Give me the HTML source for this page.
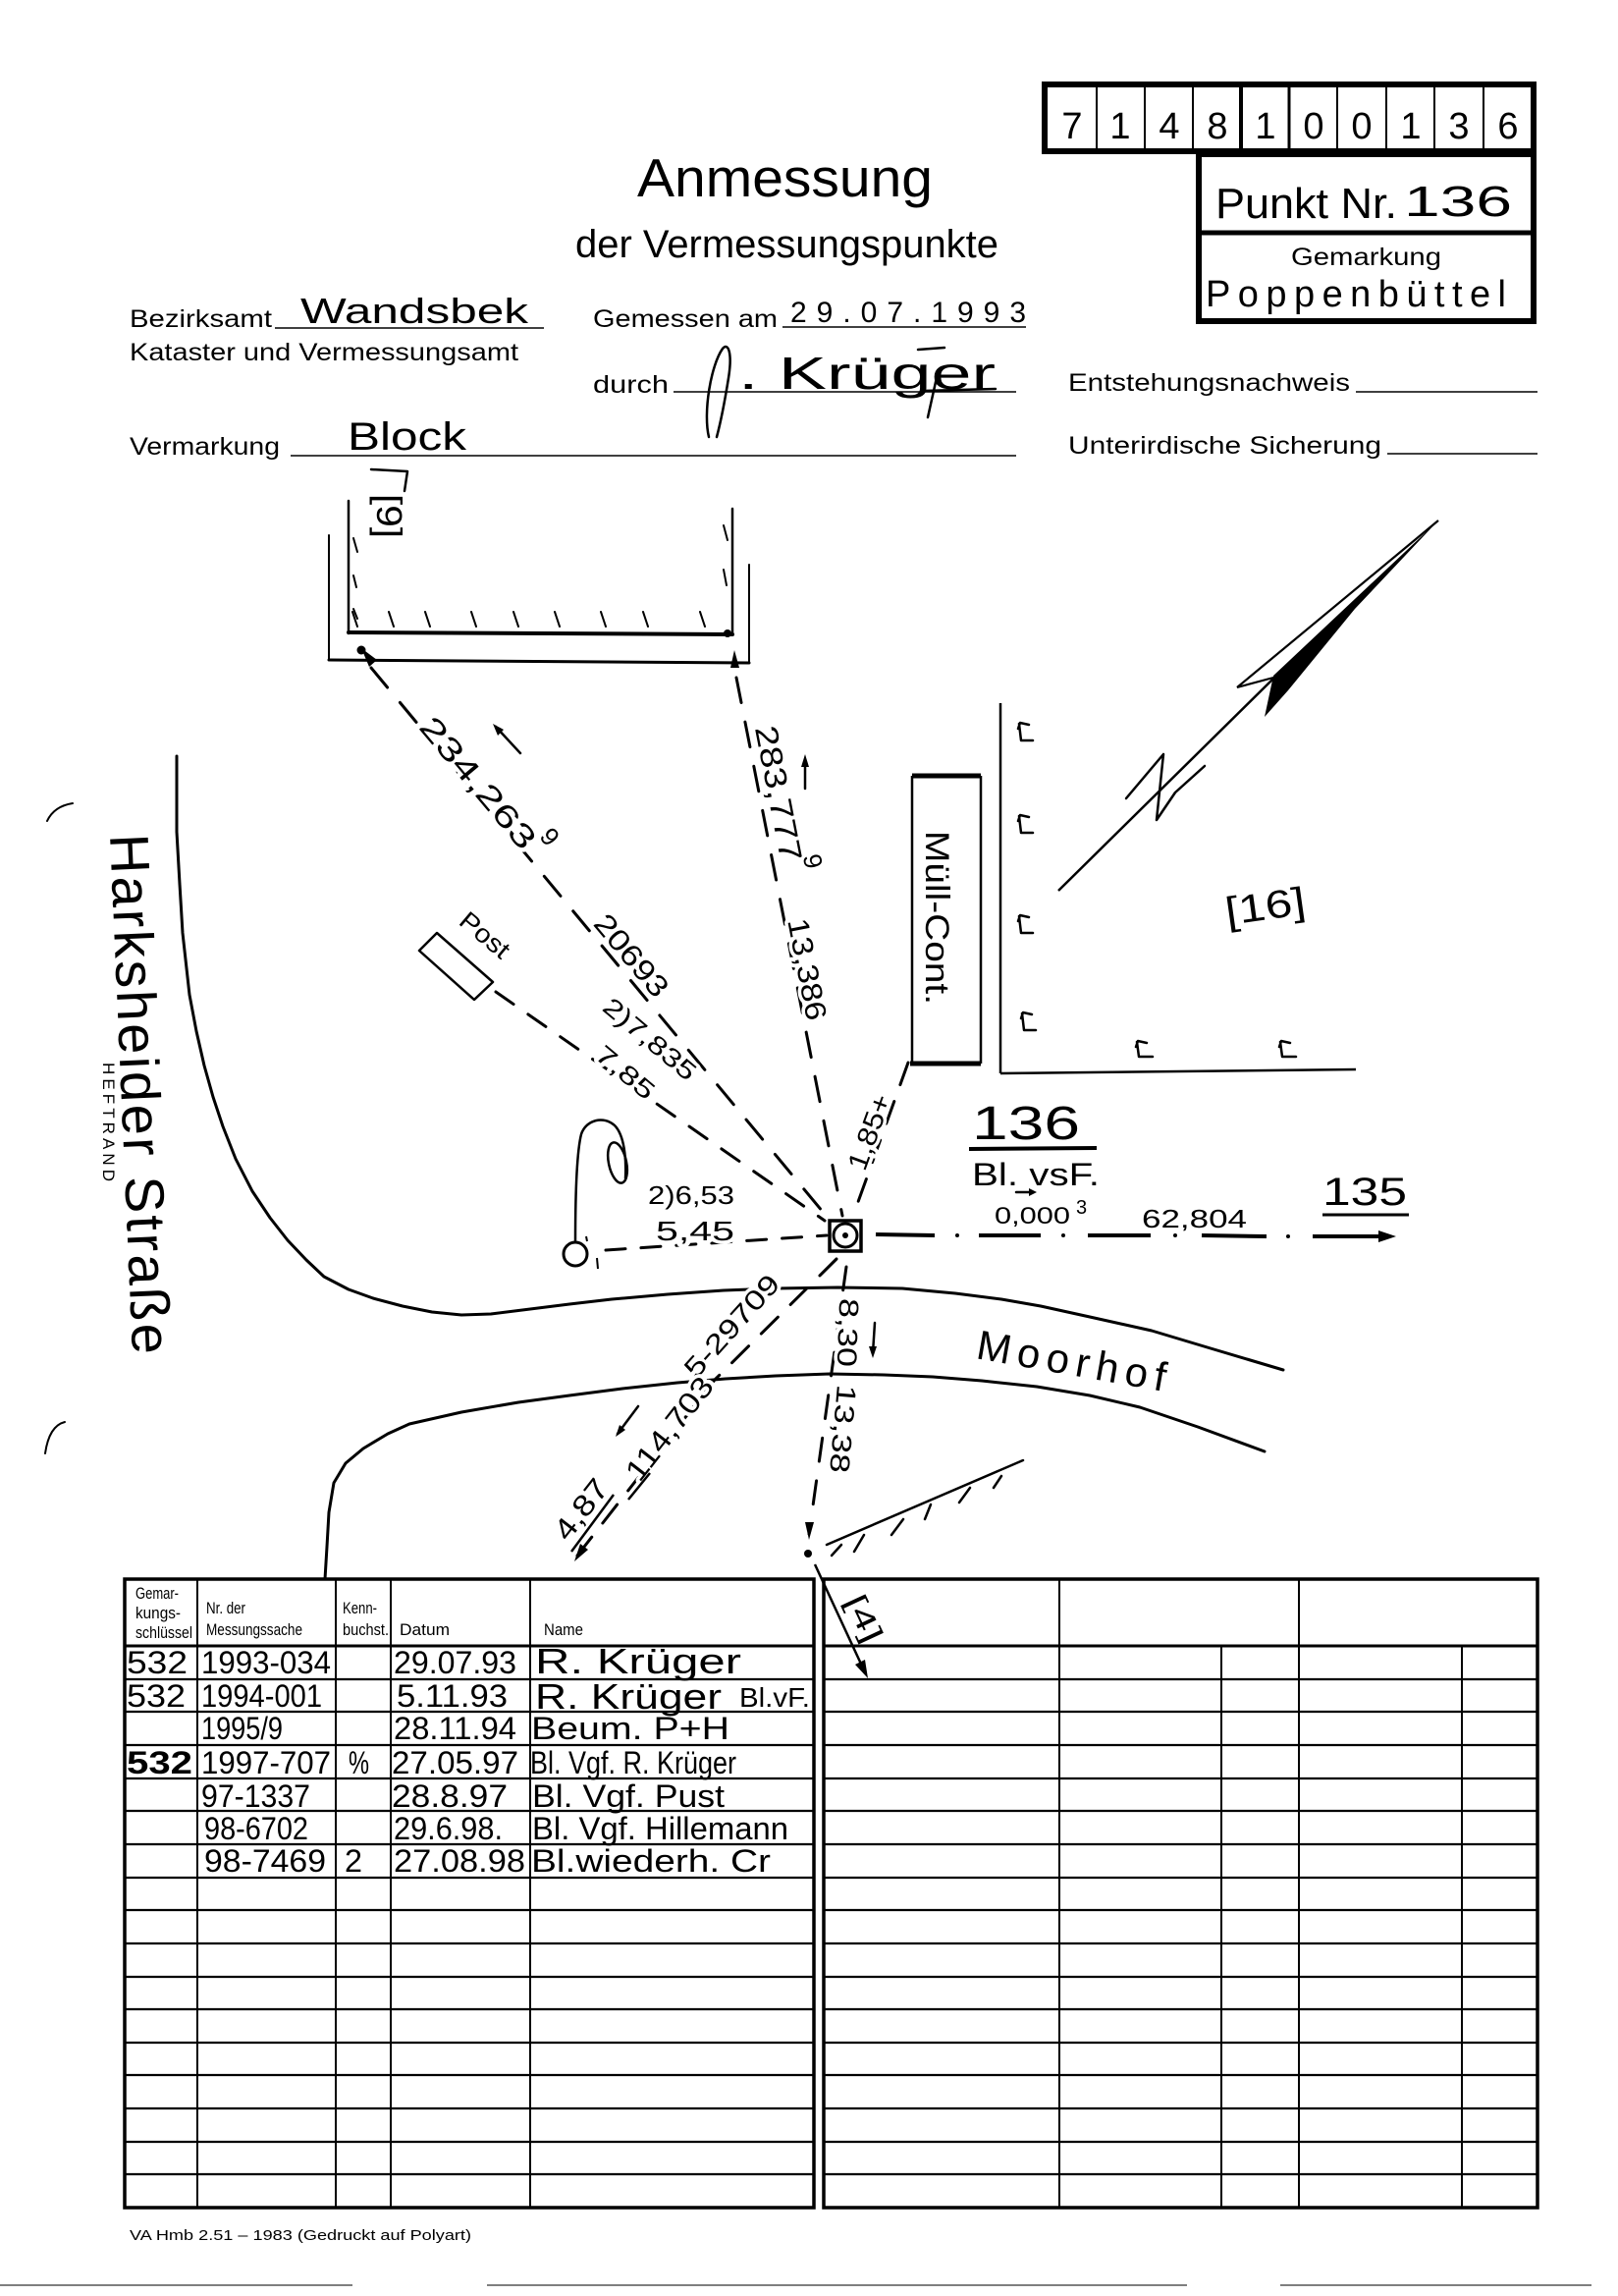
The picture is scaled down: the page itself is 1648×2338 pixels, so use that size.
<!DOCTYPE html>
<html>
<head>
<meta charset="utf-8">
<style>
html,body{margin:0;padding:0;background:#fff;}
svg{display:block;}
text{font-family:"Liberation Sans",sans-serif;fill:#000;}
.lb{paint-order:stroke;stroke:#fff;stroke-width:7px;stroke-linejoin:round;}
.s{stroke:#000;fill:none;stroke-linecap:round;stroke-linejoin:round;}
</style>
</head>
<body>
<svg xmlns="http://www.w3.org/2000/svg" width="1648" height="2338" viewBox="0 0 1648 2338">
<rect x="0" y="0" width="1648" height="2338" fill="#fff"/>

<!-- ===== HEADER ===== -->
<text x="649" y="200" font-size="55" textLength="301" lengthAdjust="spacingAndGlyphs">Anmessung</text>
<text x="586" y="262" font-size="40" textLength="431" lengthAdjust="spacingAndGlyphs">der Vermessungspunkte</text>

<text x="132" y="333" font-size="25" textLength="145" lengthAdjust="spacingAndGlyphs">Bezirksamt</text>
<line x1="280" y1="334" x2="554" y2="334" stroke="#000" stroke-width="1.6"/>
<text x="306" y="329" font-size="36" textLength="232" lengthAdjust="spacingAndGlyphs">Wandsbek</text>

<text x="604" y="333" font-size="25" textLength="188" lengthAdjust="spacingAndGlyphs">Gemessen am</text>
<line x1="797" y1="333" x2="1045" y2="333" stroke="#000" stroke-width="1.6"/>
<text x="805" y="328" font-size="30" textLength="240" lengthAdjust="spacing">29.07.1993</text>

<text x="132" y="367" font-size="25" textLength="396" lengthAdjust="spacingAndGlyphs">Kataster und Vermessungsamt</text>

<text x="604" y="400" font-size="25" textLength="77" lengthAdjust="spacingAndGlyphs">durch</text>
<line x1="686" y1="399" x2="1035" y2="399" stroke="#000" stroke-width="1.6"/>
<path class="s" stroke-width="2.5" d="M722,445 C716,420 724,372 736,355 C742,348 746,360 742,385 C738,410 734,430 730,445"/>
<text x="752" y="396" font-size="46" textLength="262" lengthAdjust="spacingAndGlyphs">. Krüger</text>
<path class="s" stroke-width="2.5" d="M935,356 L962,354 M955,380 L945,425 M940,398 L1014,396"/>

<text x="1088" y="398" font-size="25" textLength="287" lengthAdjust="spacingAndGlyphs">Entstehungsnachweis</text>
<line x1="1381" y1="399" x2="1566" y2="399" stroke="#000" stroke-width="1.6"/>

<text x="132" y="463" font-size="25" textLength="153" lengthAdjust="spacingAndGlyphs">Vermarkung</text>
<line x1="296" y1="464" x2="1035" y2="464" stroke="#000" stroke-width="1.6"/>
<text x="354" y="458" font-size="40" textLength="121" lengthAdjust="spacingAndGlyphs">Block</text>

<text x="1088" y="462" font-size="25" textLength="319" lengthAdjust="spacingAndGlyphs">Unterirdische Sicherung</text>
<line x1="1413" y1="462" x2="1566" y2="462" stroke="#000" stroke-width="1.6"/>

<!-- code box -->
<rect x="1064" y="86" width="498" height="68" fill="none" stroke="#000" stroke-width="6"/>
<g stroke="#000">
<line x1="1117" y1="89" x2="1117" y2="151" stroke-width="2"/>
<line x1="1166" y1="89" x2="1166" y2="151" stroke-width="2"/>
<line x1="1215" y1="89" x2="1215" y2="151" stroke-width="2"/>
<line x1="1264" y1="89" x2="1264" y2="151" stroke-width="4"/>
<line x1="1313" y1="89" x2="1313" y2="151" stroke-width="3"/>
<line x1="1362" y1="89" x2="1362" y2="151" stroke-width="2"/>
<line x1="1412" y1="89" x2="1412" y2="151" stroke-width="2"/>
<line x1="1461" y1="89" x2="1461" y2="151" stroke-width="2"/>
<line x1="1511" y1="89" x2="1511" y2="151" stroke-width="2"/>
</g>
<g font-size="38" text-anchor="middle">
<text x="1092" y="141">7</text><text x="1141" y="141">1</text><text x="1191" y="141">4</text>
<text x="1240" y="141">8</text><text x="1289" y="141">1</text><text x="1338" y="141">0</text>
<text x="1387" y="141">0</text><text x="1437" y="141">1</text><text x="1486" y="141">3</text>
<text x="1536" y="141">6</text>
</g>

<!-- Punkt box -->
<rect x="1221" y="157" width="341" height="170" fill="none" stroke="#000" stroke-width="6"/>
<line x1="1221" y1="237" x2="1562" y2="237" stroke="#000" stroke-width="5"/>
<text x="1238" y="222" font-size="44" textLength="185" lengthAdjust="spacingAndGlyphs">Punkt Nr.</text>
<text x="1430" y="220" font-size="44" textLength="110" lengthAdjust="spacingAndGlyphs">136</text>
<text x="1315" y="270" font-size="25" textLength="153" lengthAdjust="spacingAndGlyphs">Gemarkung</text>
<text x="1228" y="312" font-size="38" textLength="306" lengthAdjust="spacing">Poppenbüttel</text>

<!-- ===== DIAGRAM ===== -->
<!-- building [9] -->
<g class="s">
<line x1="355" y1="510" x2="355" y2="645" stroke-width="2.5"/>
<line x1="746" y1="518" x2="746" y2="646" stroke-width="2.5"/>
<line x1="355" y1="644" x2="746" y2="646" stroke-width="4"/>
<line x1="335" y1="545" x2="335" y2="672" stroke-width="2"/>
<line x1="335" y1="672" x2="763" y2="675" stroke-width="3"/>
<line x1="763" y1="575" x2="763" y2="675" stroke-width="2"/>
<g stroke-width="2">
<line x1="359" y1="623" x2="364" y2="638"/><line x1="396" y1="623" x2="401" y2="638"/>
<line x1="433" y1="623" x2="438" y2="638"/><line x1="480" y1="623" x2="485" y2="638"/>
<line x1="523" y1="623" x2="528" y2="638"/><line x1="565" y1="623" x2="570" y2="638"/>
<line x1="612" y1="623" x2="617" y2="638"/><line x1="655" y1="623" x2="660" y2="638"/>
<line x1="713" y1="623" x2="718" y2="638"/>
<line x1="360" y1="548" x2="364" y2="562"/><line x1="360" y1="586" x2="363" y2="598"/>
<line x1="360" y1="620" x2="364" y2="630"/>
<line x1="737" y1="535" x2="741" y2="550"/><line x1="737" y1="580" x2="740" y2="596"/>
</g>
</g>
<path class="s" stroke-width="2.5" d="M378,478 L415,480 L412,500"/>
<text transform="translate(384,503) rotate(90)" font-size="36" textLength="45" lengthAdjust="spacingAndGlyphs">[9]</text>
<circle cx="741" cy="645" r="4" fill="#000"/>

<!-- Harksheider / upper road -->
<polyline class="s" stroke-width="3" points="180,770 180,847 183,900 186,950 193,1013 200,1050 208,1085 217,1117 227,1147 240,1180 257,1213 275,1240 293,1263 312,1283 330,1300 355,1313 380,1322 410,1330 440,1336 470,1339 500,1338 540,1333 580,1328 623,1323 680,1318 737,1314 790,1312 853,1311 919,1312 973,1317 1020,1323 1060,1330 1110,1341 1173,1355 1233,1373 1307,1395"/>
<!-- lower road -->
<polyline class="s" stroke-width="3" points="331,1608 333,1575 335,1540 340,1510 352,1490 370,1475 395,1460 417,1450 470,1438 528,1428 580,1421 634,1414 690,1408 739,1404 790,1401 845,1399 900,1400 950,1402 1000,1406 1056,1412 1110,1421 1161,1433 1220,1453 1288,1478"/>

<text transform="translate(112,850) rotate(87.5)" font-size="56" textLength="530" lengthAdjust="spacing">Harksheider Straße</text>
<text transform="translate(105,1082) rotate(90)" font-size="17" textLength="121" lengthAdjust="spacing">HEFTRAND</text>
<path class="s" stroke-width="2" d="M74,818 Q55,821 48,836 M66,1448 Q50,1452 46,1480"/>

<!-- Post -->
<polygon class="s" stroke-width="2.5" points="427,968 445,950 502,1000 483,1018"/>
<text class="lb" transform="translate(494,952) rotate(40)" font-size="26" text-anchor="middle" dy="9" textLength="58" lengthAdjust="spacingAndGlyphs">Post</text>

<!-- Müll-Cont -->
<line x1="929" y1="790" x2="929" y2="1083" stroke="#000" stroke-width="2.5"/>
<line x1="999" y1="790" x2="999" y2="1083" stroke="#000" stroke-width="2.5"/>
<line x1="929" y1="790" x2="999" y2="790" stroke="#000" stroke-width="5"/>
<line x1="927" y1="1083" x2="999" y2="1083" stroke="#000" stroke-width="5"/>
<text transform="translate(943,846) rotate(90)" font-size="34" textLength="177" lengthAdjust="spacingAndGlyphs">Müll-Cont.</text>

<!-- fence -->
<line x1="1019" y1="716" x2="1019" y2="1093" stroke="#000" stroke-width="2.5"/>
<line x1="1019" y1="1093" x2="1381" y2="1089" stroke="#000" stroke-width="2.5"/>
<g class="s" stroke-width="2.5">
<path d="M1037,742 L1039,736 L1048,738 M1038,737 L1040,754 L1052,754"/>
<path d="M1037,836 L1039,830 L1048,832 M1038,831 L1040,848 L1052,848"/>
<path d="M1037,938 L1039,932 L1048,934 M1038,933 L1040,950 L1052,950"/>
<path d="M1040,1037 L1042,1031 L1051,1033 M1041,1032 L1043,1049 L1055,1049"/>
<path d="M1157,1066 L1159,1060 L1168,1062 M1158,1061 L1160,1076 L1174,1076"/>
<path d="M1303,1066 L1305,1060 L1314,1062 M1304,1061 L1306,1076 L1320,1076"/>
</g>
<text transform="translate(1250,942) rotate(-8)" font-size="40" textLength="82" lengthAdjust="spacingAndGlyphs">[16]</text>

<!-- north arrow -->
<line x1="1078" y1="907" x2="1298" y2="690" stroke="#000" stroke-width="2.5"/>
<line x1="1260" y1="700" x2="1465" y2="530" stroke="#000" stroke-width="2.2"/>
<line x1="1260" y1="700" x2="1297" y2="690" stroke="#000" stroke-width="2.2"/>
<polygon points="1465,530 1297,688 1288,730 1312,703 1380,620" fill="#000"/>
<polyline class="s" stroke-width="2.5" points="1147,813 1185,768 1178,835 1197,807 1227,780"/>

<!-- dashed measurement lines -->
<g class="s" stroke-width="3">
<line x1="378" y1="680" x2="843" y2="1240" stroke-dasharray="26 20"/>
<line x1="750" y1="690" x2="858" y2="1238" stroke-dasharray="26 20"/>
<line x1="505" y1="1010" x2="840" y2="1243" stroke-dasharray="22 18"/>
<line x1="925" y1="1082" x2="870" y2="1235" stroke-dasharray="24 18"/>
<line x1="617" y1="1273" x2="842" y2="1258" stroke-dasharray="20 16"/>
<polyline points="852,1282 728,1405 588,1584" stroke-dasharray="24 18"/>
<line x1="862" y1="1290" x2="824" y2="1562" stroke-dasharray="24 20"/>
</g>
<!-- right dash-dot line -->
<g stroke="#000" stroke-width="4">
<line x1="892" y1="1257" x2="952" y2="1258"/>
<line x1="997" y1="1258" x2="1060" y2="1258"/>
<line x1="1108" y1="1258" x2="1172" y2="1258"/>
<line x1="1224" y1="1258" x2="1290" y2="1259"/>
<line x1="1337" y1="1259" x2="1406" y2="1259"/>
</g>
<circle cx="975" cy="1258" r="2" fill="#000"/>
<circle cx="1083" cy="1258" r="2" fill="#000"/>
<circle cx="1197" cy="1258" r="2" fill="#000"/>
<circle cx="1312" cy="1259" r="2" fill="#000"/>
<polygon points="1422,1259 1404,1253 1404,1265" fill="#000"/>

<!-- line from dot into table -->
<line x1="830" y1="1593" x2="881" y2="1703" stroke="#000" stroke-width="2.5"/>
<circle cx="823" cy="1582" r="4" fill="#000"/>

<!-- hatched fence line -->
<g class="s" stroke-width="2.5">
<line x1="842" y1="1573" x2="1042" y2="1487"/>
<line x1="857" y1="1573" x2="847" y2="1584"/>
<line x1="880" y1="1563" x2="870" y2="1580"/>
<line x1="920" y1="1547" x2="908" y2="1563"/>
<line x1="948" y1="1532" x2="942" y2="1547"/>
<line x1="988" y1="1515" x2="977" y2="1530"/>
<line x1="1020" y1="1503" x2="1012" y2="1515"/>
</g>

<!-- arrowheads -->
<g fill="#000">
<polygon points="368,660 384,672 376,679"/>
<circle cx="368" cy="662" r="4.5"/>
<polygon points="748,662 753,680 744,680"/>
<polygon points="585,1590 599,1578 591,1572"/>
<polygon points="824,1568 829,1550 820,1550"/>
<polygon points="884,1709 881,1690 871,1695"/>
</g>
<!-- small arrows -->
<g class="s" stroke-width="2.5">
<line x1="530" y1="767" x2="505" y2="740"/>
<line x1="820" y1="803" x2="820" y2="774"/>
<line x1="650" y1="1432" x2="629" y2="1460"/>
<line x1="891" y1="1347" x2="889" y2="1378"/>
<line x1="1035" y1="1214" x2="1050" y2="1214"/>
</g>
<g fill="#000">
<polygon points="502,737 513,743 507,749"/>
<polygon points="820,768 824,781 816,781"/>
<polygon points="627,1463 637,1456 631,1451"/>
<polygon points="889,1383 885,1371 893,1371"/>
<polygon points="1056,1214 1048,1210 1048,1218"/>
</g>

<!-- point 136 symbol -->
<rect x="845" y="1243" width="32" height="31" fill="#fff" stroke="#000" stroke-width="3.5"/>
<circle cx="861" cy="1258" r="12" fill="none" stroke="#000" stroke-width="3"/>
<circle cx="861" cy="1258" r="3" fill="#000"/>

<!-- left circle + hook -->
<circle cx="586" cy="1277" r="12" fill="none" stroke="#000" stroke-width="3"/>
<path class="s" stroke-width="2.5" d="M586,1264 C586,1220 587,1175 592,1155 C597,1140 615,1136 626,1146 C636,1156 638,1180 637,1200"/>
<ellipse cx="629" cy="1184" rx="9" ry="21" transform="rotate(-12 629 1184)" fill="none" stroke="#000" stroke-width="2.5"/>
<line x1="608" y1="1281" x2="609" y2="1292" stroke="#000" stroke-width="2"/>
<line x1="597" y1="1259" x2="598" y2="1264" stroke="#000" stroke-width="2"/>

<!-- labels on lines -->
<g font-size="32">
<text class="lb" transform="translate(487,797) rotate(50)" text-anchor="middle" dy="11" textLength="165" lengthAdjust="spacingAndGlyphs">234,263</text>
<text class="lb" transform="translate(560,852) rotate(50)" text-anchor="middle" dy="9" font-size="26">9</text>
<text class="lb" transform="translate(643,973) rotate(50)" text-anchor="middle" dy="10" font-size="30" textLength="100" lengthAdjust="spacingAndGlyphs">20693</text>
<text class="lb" transform="translate(662,1058) rotate(40)" text-anchor="middle" dy="9" font-size="26" textLength="115" lengthAdjust="spacingAndGlyphs">2)7,835</text>
<text class="lb" transform="translate(637,1092) rotate(40)" text-anchor="middle" dy="9" font-size="26" textLength="70" lengthAdjust="spacingAndGlyphs">7,85</text>
<text class="lb" transform="translate(793,808) rotate(79)" text-anchor="middle" dy="11" textLength="140" lengthAdjust="spacingAndGlyphs">283,777</text>
<text class="lb" transform="translate(828,877) rotate(79)" text-anchor="middle" dy="9" font-size="26">9</text>
<text class="lb" transform="translate(822,987) rotate(79)" text-anchor="middle" dy="10" font-size="30" textLength="105" lengthAdjust="spacingAndGlyphs">13,386</text>
<text class="lb" transform="translate(886,1153) rotate(-70)" text-anchor="middle" dy="9" font-size="28" textLength="80" lengthAdjust="spacingAndGlyphs">1,85+</text>
<text class="lb" x="660" y="1226" font-size="26" textLength="88" lengthAdjust="spacingAndGlyphs">2)6,53</text>
<text class="lb" x="668" y="1263" font-size="28" textLength="80" lengthAdjust="spacingAndGlyphs">5,45</text>
<text class="lb" transform="translate(745,1350) rotate(-48)" text-anchor="middle" dy="10" font-size="28" textLength="130" lengthAdjust="spacingAndGlyphs">5-29709</text>
<text class="lb" transform="translate(682,1455) rotate(-52)" text-anchor="middle" dy="10" font-size="30" textLength="125" lengthAdjust="spacingAndGlyphs">114,703</text>
<text class="lb" transform="translate(592,1537) rotate(-52)" text-anchor="middle" dy="10" font-size="30" textLength="70" lengthAdjust="spacingAndGlyphs">4,87</text>
<text class="lb" transform="translate(863,1357) rotate(92)" text-anchor="middle" dy="9" font-size="28" textLength="70" lengthAdjust="spacingAndGlyphs">8,30</text>
<text class="lb" transform="translate(858,1455) rotate(95)" text-anchor="middle" dy="9" font-size="28" textLength="90" lengthAdjust="spacingAndGlyphs">13,38</text>
</g>
<line x1="582" y1="1580" x2="625" y2="1522" stroke="#000" stroke-width="2.5"/>
<line x1="640" y1="1527" x2="662" y2="1500" stroke="#000" stroke-width="2.5"/>

<!-- [4] -->
<text transform="translate(880,1648) rotate(65)" text-anchor="middle" dy="10" font-size="30" textLength="50" lengthAdjust="spacingAndGlyphs">[4]</text>

<!-- point labels -->
<text x="990" y="1160" font-size="48" textLength="110" lengthAdjust="spacingAndGlyphs">136</text>
<line x1="987" y1="1170" x2="1117" y2="1169" stroke="#000" stroke-width="4"/>
<text x="990" y="1207" font-size="32" textLength="130" lengthAdjust="spacingAndGlyphs">Bl. vsF.</text>
<text x="1013" y="1246" font-size="24" textLength="77" lengthAdjust="spacingAndGlyphs">0,000</text>
<text x="1096" y="1236" font-size="20">3</text>
<text x="1163" y="1250" font-size="26" textLength="107" lengthAdjust="spacingAndGlyphs">62,804</text>
<text x="1347" y="1227" font-size="40" textLength="86" lengthAdjust="spacingAndGlyphs">135</text>
<line x1="1347" y1="1237" x2="1435" y2="1237" stroke="#000" stroke-width="3"/>

<text transform="translate(993,1383) rotate(10)" font-size="42" textLength="195" lengthAdjust="spacing">Moorhof</text>

<!-- ===== TABLES ===== -->
<g stroke="#000" fill="none">
<rect x="127" y="1608" width="702" height="640" stroke-width="3.5"/>
<rect x="839" y="1608" width="727" height="640" stroke-width="3.5"/>
<line x1="127" y1="1676" x2="829" y2="1676" stroke-width="3"/>
<line x1="839" y1="1676" x2="1566" y2="1676" stroke-width="3"/>
<g stroke-width="2">
<line x1="201" y1="1608" x2="201" y2="2248"/>
<line x1="342" y1="1608" x2="342" y2="2248"/>
<line x1="398" y1="1608" x2="398" y2="2248"/>
<line x1="540" y1="1608" x2="540" y2="2248"/>
<line x1="1079" y1="1608" x2="1079" y2="2248"/>
<line x1="1323" y1="1608" x2="1323" y2="2248"/>
<line x1="1244" y1="1676" x2="1244" y2="2248"/>
<line x1="1489" y1="1676" x2="1489" y2="2248"/>
</g>
<g stroke-width="2.2">
<line x1="127" y1="1710" x2="829" y2="1710"/><line x1="839" y1="1710" x2="1566" y2="1710"/>
<line x1="127" y1="1743" x2="829" y2="1743"/><line x1="839" y1="1743" x2="1566" y2="1743"/>
<line x1="127" y1="1777" x2="829" y2="1777"/><line x1="839" y1="1777" x2="1566" y2="1777"/>
<line x1="127" y1="1811" x2="829" y2="1811"/><line x1="839" y1="1811" x2="1566" y2="1811"/>
<line x1="127" y1="1844" x2="829" y2="1844"/><line x1="839" y1="1844" x2="1566" y2="1844"/>
<line x1="127" y1="1878" x2="829" y2="1878"/><line x1="839" y1="1878" x2="1566" y2="1878"/>
<line x1="127" y1="1912" x2="829" y2="1912"/><line x1="839" y1="1912" x2="1566" y2="1912"/>
<line x1="127" y1="1945" x2="829" y2="1945"/><line x1="839" y1="1945" x2="1566" y2="1945"/>
<line x1="127" y1="1979" x2="829" y2="1979"/><line x1="839" y1="1979" x2="1566" y2="1979"/>
<line x1="127" y1="2013" x2="829" y2="2013"/><line x1="839" y1="2013" x2="1566" y2="2013"/>
<line x1="127" y1="2046" x2="829" y2="2046"/><line x1="839" y1="2046" x2="1566" y2="2046"/>
<line x1="127" y1="2080" x2="829" y2="2080"/><line x1="839" y1="2080" x2="1566" y2="2080"/>
<line x1="127" y1="2113" x2="829" y2="2113"/><line x1="839" y1="2113" x2="1566" y2="2113"/>
<line x1="127" y1="2147" x2="829" y2="2147"/><line x1="839" y1="2147" x2="1566" y2="2147"/>
<line x1="127" y1="2181" x2="829" y2="2181"/><line x1="839" y1="2181" x2="1566" y2="2181"/>
<line x1="127" y1="2214" x2="829" y2="2214"/><line x1="839" y1="2214" x2="1566" y2="2214"/>
</g>
</g>

<!-- table header text -->
<g font-size="17">
<text x="138" y="1628" textLength="44" lengthAdjust="spacingAndGlyphs">Gemar-</text>
<text x="138" y="1648" textLength="46" lengthAdjust="spacingAndGlyphs">kungs-</text>
<text x="138" y="1668" textLength="58" lengthAdjust="spacingAndGlyphs">schlüssel</text>
<text x="210" y="1643" textLength="40" lengthAdjust="spacingAndGlyphs">Nr. der</text>
<text x="210" y="1665" textLength="98" lengthAdjust="spacingAndGlyphs">Messungssache</text>
<text x="349" y="1643" textLength="35" lengthAdjust="spacingAndGlyphs">Kenn-</text>
<text x="349" y="1665" textLength="47" lengthAdjust="spacingAndGlyphs">buchst.</text>
<text x="407" y="1665" textLength="51" lengthAdjust="spacingAndGlyphs">Datum</text>
<text x="554" y="1665" textLength="40" lengthAdjust="spacingAndGlyphs">Name</text>
</g>

<!-- table handwritten rows -->
<g font-size="32">
<text x="129" y="1704" textLength="62" lengthAdjust="spacingAndGlyphs">532</text>
<text x="205" y="1704" textLength="132" lengthAdjust="spacingAndGlyphs">1993-034</text>
<text x="401" y="1704" textLength="125" lengthAdjust="spacingAndGlyphs">29.07.93</text>
<text x="545" y="1704" font-size="36" textLength="210" lengthAdjust="spacingAndGlyphs">R. Krüger</text>

<text x="129" y="1738" textLength="60" lengthAdjust="spacingAndGlyphs">532</text>
<text x="205" y="1738" textLength="123" lengthAdjust="spacingAndGlyphs">1994-001</text>
<text x="404" y="1738" textLength="113" lengthAdjust="spacingAndGlyphs">5.11.93</text>
<text x="545" y="1740" font-size="36" textLength="190" lengthAdjust="spacingAndGlyphs">R. Krüger</text>
<text x="753" y="1738" font-size="28" textLength="72" lengthAdjust="spacingAndGlyphs">Bl.vF.</text>

<text x="205" y="1771" textLength="83" lengthAdjust="spacingAndGlyphs">1995/9</text>
<text x="401" y="1771" textLength="125" lengthAdjust="spacingAndGlyphs">28.11.94</text>
<text x="541" y="1771" textLength="202" lengthAdjust="spacingAndGlyphs">Beum. P+H</text>

<text x="129" y="1806" font-weight="bold" textLength="67" lengthAdjust="spacingAndGlyphs">532</text>
<text x="205" y="1806" textLength="132" lengthAdjust="spacingAndGlyphs">1997-707</text>
<text x="355" y="1806" textLength="21" lengthAdjust="spacingAndGlyphs">%</text>
<text x="399" y="1806" textLength="129" lengthAdjust="spacingAndGlyphs">27.05.97</text>
<text x="540" y="1806" textLength="210" lengthAdjust="spacingAndGlyphs">Bl. Vgf. R. Krüger</text>

<text x="205" y="1840" textLength="111" lengthAdjust="spacingAndGlyphs">97-1337</text>
<text x="399" y="1840" textLength="118" lengthAdjust="spacingAndGlyphs">28.8.97</text>
<text x="542" y="1840" textLength="196" lengthAdjust="spacingAndGlyphs">Bl. Vgf. Pust</text>

<text x="208" y="1873" textLength="106" lengthAdjust="spacingAndGlyphs">98-6702</text>
<text x="401" y="1873" textLength="111" lengthAdjust="spacingAndGlyphs">29.6.98.</text>
<text x="542" y="1873" textLength="261" lengthAdjust="spacingAndGlyphs">Bl. Vgf. Hillemann</text>

<text x="208" y="1906" textLength="124" lengthAdjust="spacingAndGlyphs">98-7469</text>
<text x="351" y="1906" textLength="18" lengthAdjust="spacingAndGlyphs">2</text>
<text x="401" y="1906" textLength="134" lengthAdjust="spacingAndGlyphs">27.08.98</text>
<text x="541" y="1906" textLength="244" lengthAdjust="spacingAndGlyphs">Bl.wiederh. Cr</text>
</g>

<!-- footer -->
<text x="132" y="2281" font-size="15" textLength="348" lengthAdjust="spacingAndGlyphs">VA Hmb 2.51 – 1983 (Gedruckt auf Polyart)</text>

<!-- scan edge lines -->
<g stroke="#555" stroke-width="1.5">
<line x1="0" y1="2327" x2="359" y2="2327"/>
<line x1="496" y1="2327" x2="1209" y2="2327"/>
<line x1="1304" y1="2327" x2="1621" y2="2327"/>
</g>
</svg>
</body>
</html>
